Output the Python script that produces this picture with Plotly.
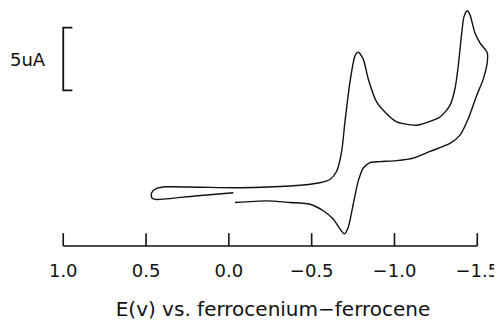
import plotly.graph_objects as go

# ---- data ----
# Potential (V vs Fc+/Fc) along the scan, starting near 0.0 V, out to +0.47 V,
# then negative to -1.56 V and back to ~0.0 V
E_SCAN = [-0.027, 0.205, 0.446, 0.466, 0.466, 0.436, 0.376, 0.175, -0.067, -0.369,
          -0.550, -0.610, -0.651, -0.681, -0.701, -0.731, -0.761, -0.781, -0.812, -0.842,
          -0.893, -0.973, -1.013, -1.053, -1.134, -1.194, -1.275, -1.335, -1.365, -1.385,
          -1.406, -1.420, -1.440, -1.456, -1.486, -1.516, -1.560, -1.560, -1.536, -1.496,
          -1.446, -1.396, -1.335, -1.214, -1.114, -1.013, -0.912, -0.852, -0.812, -0.781,
          -0.751, -0.721, -0.697, -0.671, -0.630, -0.570, -0.490, -0.369, -0.228, -0.037]
# Current (uA, cathodic up, arbitrary offset)
I_SCAN = [-0.16, -0.42, -0.69, -0.55, -0.16, 0.18, 0.31, 0.28, 0.24, 0.37,
          0.63, 0.89, 1.55, 3.13, 5.49, 8.64, 10.73, 11.05, 10.47, 8.90,
          7.06, 5.88, 5.49, 5.35, 5.22, 5.43, 5.88, 6.80, 8.11, 9.94,
          12.57, 13.88, 14.35, 14.02, 12.57, 11.79, 11.00, 10.21, 8.90, 7.58,
          5.75, 4.43, 3.78, 3.13, 2.60, 2.40, 2.32, 2.24, 1.81, 0.76,
          -1.08, -2.91, -3.44, -3.05, -2.26, -1.60, -1.08, -0.94, -0.81, -0.94]

TICK_VALUES = [1.0, 0.5, 0.0, -0.5, -1.0, -1.5]
TICK_LABELS = ["1.0", "0.5", "0.0", "\u22120.5", "\u22121.0", "\u22121.5"]

SCALE_UA = 5.0          # scale bar size in uA
SCALE_LABEL = "5uA"
X_TITLE = "E(v) vs. ferrocenium\u2212ferrocene"

# ---- layout constants ----
AXIS_I = -4.41          # current level where the potential axis is drawn
TICK_LEN_UA = 1.02
SCALE_E = 1.0
SCALE_SERIF_E = 0.945
SCALE_BOTTOM = 8.0
X_RANGE = [1.080, -1.613]
Y_RANGE = [-4.65, 14.57]

INK = "#111111"
FONT = "DejaVu Sans"

fig = go.Figure()

# CV curve
fig.add_trace(go.Scatter(x=E_SCAN, y=I_SCAN, mode="lines",
                         line=dict(color=INK, width=1.4, shape="spline", smoothing=0.7),
                         hoverinfo="skip", showlegend=False))

# potential axis line and tick marks (only between first and last tick)
fig.add_trace(go.Scatter(x=[TICK_VALUES[0], TICK_VALUES[-1]], y=[AXIS_I, AXIS_I],
                         mode="lines", line=dict(color=INK, width=1.6),
                         hoverinfo="skip", showlegend=False))
tx, ty = [], []
for t in TICK_VALUES:
    tx += [t, t, None]
    ty += [AXIS_I, AXIS_I + TICK_LEN_UA, None]
fig.add_trace(go.Scatter(x=tx, y=ty, mode="lines", line=dict(color=INK, width=1.6),
                         hoverinfo="skip", showlegend=False))

# current scale bar
fig.add_trace(go.Scatter(x=[SCALE_SERIF_E, SCALE_E, SCALE_E, SCALE_SERIF_E],
                         y=[SCALE_BOTTOM + SCALE_UA, SCALE_BOTTOM + SCALE_UA, SCALE_BOTTOM, SCALE_BOTTOM],
                         mode="lines", line=dict(color=INK, width=1.8),
                         hoverinfo="skip", showlegend=False))

fig.add_annotation(x=SCALE_E, y=SCALE_BOTTOM + SCALE_UA / 2, xref="x", yref="y",
                   text=SCALE_LABEL, showarrow=False, xanchor="right", yanchor="middle",
                   xshift=-15, font=dict(family=FONT, size=18, color=INK))

# the page body adds an 8px offset, so the figure is 8px smaller than the window
fig.update_layout(
    width=494, height=313,
    margin=dict(l=42, r=6, t=0, b=69),
    paper_bgcolor="white", plot_bgcolor="white",
    font=dict(family=FONT, size=18, color=INK),
    xaxis=dict(range=X_RANGE, tickvals=TICK_VALUES, ticktext=TICK_LABELS,
               showgrid=False, zeroline=False, showline=False, ticks="",
               ticklabelstandoff=9,
               tickfont=dict(family=FONT, size=18, color=INK),
               title=dict(text=X_TITLE, font=dict(family=FONT, size=20, color=INK), standoff=26)),
    yaxis=dict(range=Y_RANGE, visible=False, showgrid=False, zeroline=False),
)

fig.write_html("out.html")
